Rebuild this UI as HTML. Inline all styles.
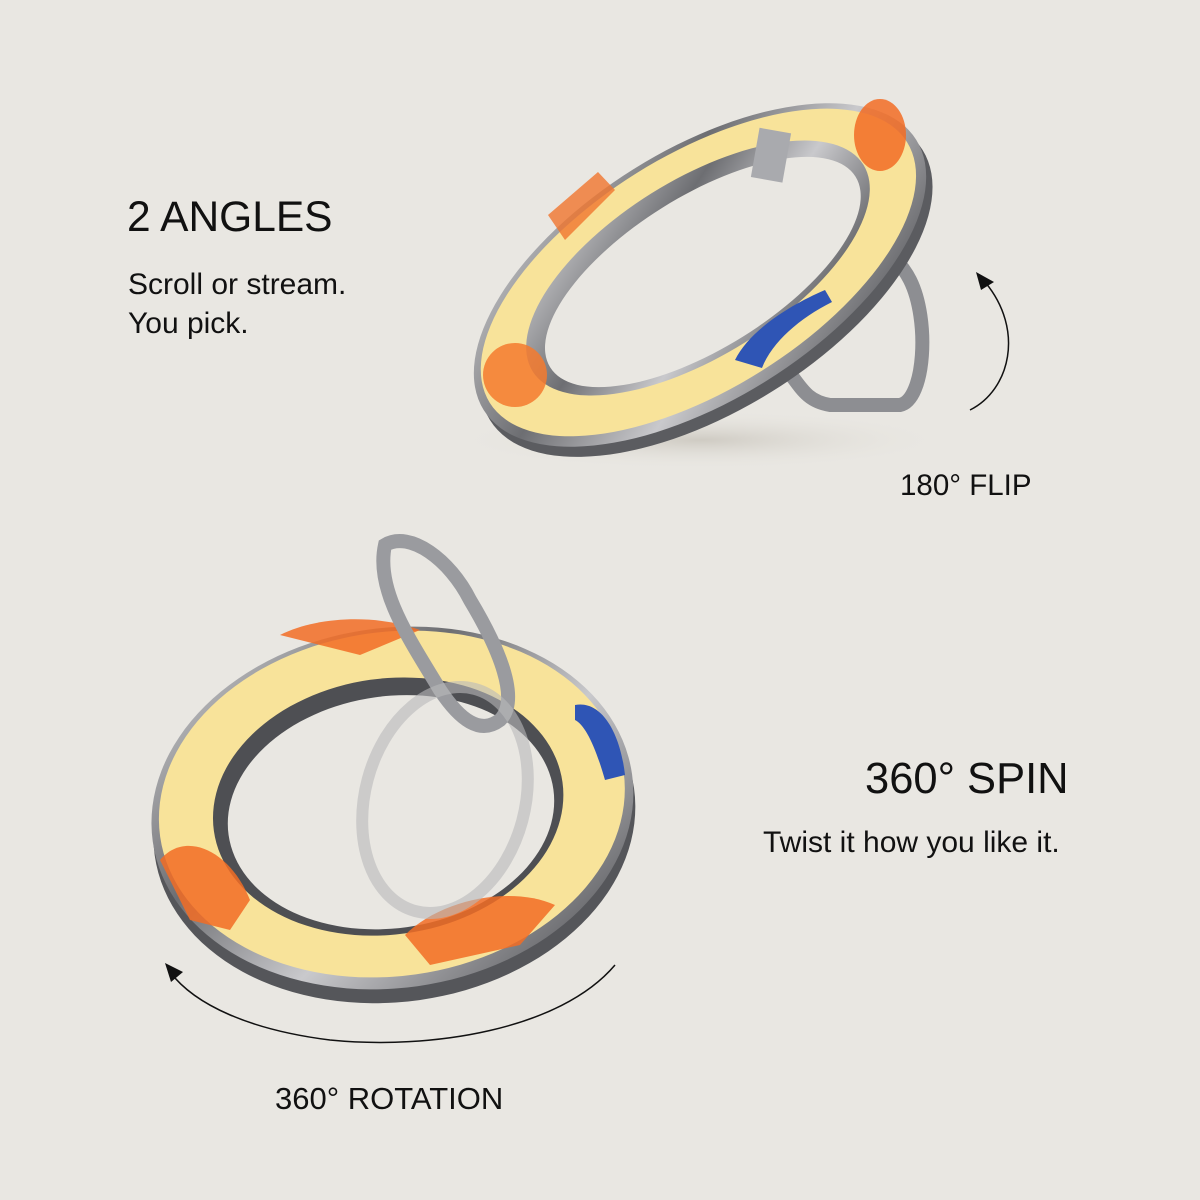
<!DOCTYPE html>
<html><head><meta charset="utf-8"><style>
html,body{margin:0;padding:0;background:#e9e7e2;}
.wrap{position:relative;width:1200px;height:1200px;overflow:hidden;background:#e9e7e2;font-family:"Liberation Sans",sans-serif;color:#111;}
.t{position:absolute;white-space:nowrap;}
</style></head><body><div class="wrap">
<svg width="1200" height="1200" style="position:absolute;left:0;top:0">
<defs>
<linearGradient id="metal" x1="0" y1="0" x2="1" y2="1">
<stop offset="0" stop-color="#d8d8da"/><stop offset="0.35" stop-color="#6d6e72"/><stop offset="0.6" stop-color="#c9c9cc"/><stop offset="1" stop-color="#3f4044"/>
</linearGradient>
<radialGradient id="sh" cx="0.5" cy="0.5" r="0.5"><stop offset="0" stop-color="#bdb8ae" stop-opacity="0.6"/><stop offset="1" stop-color="#e9e7e2" stop-opacity="0"/></radialGradient>
</defs>
<ellipse cx="700" cy="440" rx="250" ry="30" fill="url(#sh)"/>
<path d="M735 215 C700 240 720 300 770 350 C800 380 800 400 830 405 L900 405 C925 400 930 320 910 280 C890 240 820 200 735 215 Z" fill="none" stroke="#8d8e92" stroke-width="14"/>
<g transform="rotate(-32 700 275)">
<ellipse cx="700" cy="287" rx="255" ry="125" fill="#5b5c60"/>
<ellipse cx="700" cy="275" rx="255" ry="125" fill="url(#metal)"/>
<ellipse cx="700" cy="272" rx="246" ry="117" fill="#f8e39a"/>
<ellipse cx="702" cy="268" rx="195" ry="88" fill="url(#metal)"/>
<ellipse cx="704" cy="274" rx="180" ry="76" fill="#e9e7e2"/>
</g>
<circle cx="515" cy="375" r="32" fill="#f47a2e" opacity="0.85"/>
<ellipse cx="880" cy="135" rx="26" ry="36" fill="#f26c24" opacity="0.85"/>
<path d="M548 215 L598 172 L615 190 L565 240 Z" fill="#f0762e" opacity="0.8"/>
<path d="M735 360 C750 330 790 305 825 290 L832 302 C800 318 772 342 762 368 Z" fill="#2f55b5"/>
<rect x="755" y="130" width="32" height="50" fill="#a9aaae" transform="rotate(10 770 155)"/>
<path d="M970 410 C1010 390 1025 330 985 282" fill="none" stroke="#111" stroke-width="1.5"/>
<path d="M976 272 L994 282 L981 290 Z" fill="#111"/>
<g transform="rotate(-8 392 805)">
<ellipse cx="392" cy="822" rx="242" ry="180" fill="#55565a"/>
<ellipse cx="392" cy="808" rx="242" ry="180" fill="url(#metal)"/>
<ellipse cx="392" cy="804" rx="234" ry="172" fill="#f8e39a"/>
<ellipse cx="388" cy="806" rx="176" ry="128" fill="#4e4f53"/>
<ellipse cx="390" cy="812" rx="164" ry="116" fill="#e9e7e2"/>
</g>
<path d="M280 635 C320 615 380 615 420 630 L360 655 Z" fill="#f26c24" opacity="0.85"/>
<path d="M405 935 C440 900 510 885 555 905 L520 945 L430 965 Z" fill="#f26c24" opacity="0.85"/>
<path d="M160 860 C185 830 230 850 250 900 L230 930 L190 920 Z" fill="#f26c24" opacity="0.85"/>
<path d="M575 705 C600 700 620 730 625 775 L605 780 C595 745 585 725 575 720 Z" fill="#2f55b5"/>
<path d="M385 545 C410 530 450 560 470 600 C500 650 520 700 500 720 C480 735 460 720 440 690 C410 640 375 590 385 545 Z" fill="none" stroke="#9a9b9f" stroke-width="14"/>
<ellipse cx="445" cy="800" rx="80" ry="115" fill="none" stroke="#b9b9bb" stroke-width="12" opacity="0.6" transform="rotate(15 445 800)"/>
<path d="M615 965 C560 1030 430 1050 330 1040 C250 1030 195 1005 170 972" fill="none" stroke="#111" stroke-width="1.5"/>
<path d="M165 963 L183 972 L171 982 Z" fill="#111"/>
</svg>
<div class="t" style="left:127px;top:194px;font-size:42.5px;">2 ANGLES</div>
<div class="t" style="left:128px;top:265px;font-size:30px;line-height:39px;">Scroll or stream.<br>You pick.</div>
<div class="t" style="left:900px;top:469px;font-size:29.5px;">180° FLIP</div>
<div class="t" style="left:865px;top:755px;font-size:43.5px;">360° SPIN</div>
<div class="t" style="left:763px;top:826px;font-size:30px;">Twist it how you like it.</div>
<div class="t" style="left:275px;top:1081px;font-size:31px;">360° ROTATION</div>
</div></body></html>
